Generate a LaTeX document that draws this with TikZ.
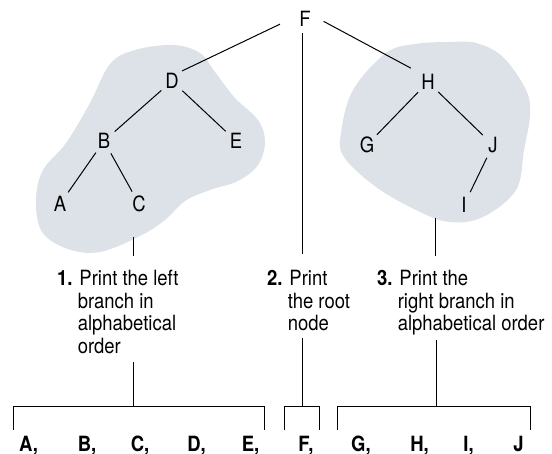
\documentclass[tikz,border=0pt]{standalone}
\usepackage{fontspec}
\setmainfont{TeX Gyre Heros}[FakeStretch=0.88]
\usepackage{xcolor}
\usetikzlibrary{positioning,calc}
\definecolor{cloudgray}{RGB}{220,226,231}

\begin{document}
\begin{tikzpicture}[
  x=1pt, y=-1pt,
  font=\fontsize{21}{22.7}\selectfont,
  key/.style={circle, inner sep=0pt, minimum size=28pt},
  edge/.style={line width=1pt},
  blob/.style={fill=cloudgray, draw=none},
  note/.style={align=left, inner sep=0pt, anchor=north west},
  item/.style={font=\fontsize{21}{22.7}\selectfont\bfseries, inner sep=0pt, anchor=base},
]
\useasboundingbox (0,0) rectangle (552,454);
% shaded branches
\fill[blob] plot[smooth cycle, tension=0.6] coordinates {(173,45) (200,53) (215,72) (235,98) (258,120) (265,142) (258,165) (238,181) (210,190) (185,201) (165,220) (140,236) (100,252) (68,249) (42,232) (36,200) (43,170) (66,143) (90,103) (110,64) (135,50)};
\fill[blob] plot[smooth cycle, tension=0.6] coordinates {(449,42) (476,43) (503,57) (526,90) (530,115) (524,150) (516,190) (483,217) (449,222) (416,210) (376,187) (344,157) (341,133) (353,90) (386,53) (415,44)};
% tree
\node[key] (F) at (305,19) {F};
\node[key] (D) at (172,81) {D};
\node[key] (B) at (104,141) {B};
\node[key] (E) at (236,141) {E};
\node[key] (A) at (60,204) {A};
\node[key] (C) at (139,204) {C};
\node[key] (H) at (428,82) {H};
\node[key] (G) at (367,145) {G};
\node[key] (J) at (493,145) {J};
\node[key] (I) at (464,205) {I};
\draw[edge, shorten <=12pt] (F.west) -- (D.45);
\draw[edge, shorten <=5pt, shorten >=8pt] (F.east) -- (H.north west);
\draw[edge] (D) -- (B);
\draw[edge] (D) -- (E);
\draw[edge] (B) -- (A);
\draw[edge] (B) -- (C);
\draw[edge] (H) -- (G);
\draw[edge] (H) -- (J);
\draw[edge] (J) -- (I);
% steps
\node[note] (step1) at (57,270) {\textbf{1.} Print the left\\ \hphantom{\textbf{1.}~}branch in\\ \hphantom{\textbf{1.}~}alphabetical\\ \hphantom{\textbf{1.}~}order};
\node[note] (step2) at (267,270) {\textbf{2.} Print\\ \hphantom{\textbf{2.}~}the root\\ \hphantom{\textbf{2.}~}node};
\node[note] (step3) at (377,270) {\textbf{3.} Print the\\ \hphantom{\textbf{3.}~}right branch in\\ \hphantom{\textbf{3.}~}alphabetical order};
% printed order
\node[item] (oA) at (28.5,451) {A,};
\node[item] (oB) at (87,451) {B,};
\node[item] (oC) at (140,451) {C,};
\node[item] (oD) at (196.5,451) {D,};
\node[item] (oE) at (250.5,451) {E,};
\node[item] (oF) at (306,451) {F,};
\node[item] (oG) at (361,451) {G,};
\node[item] (oH) at (419.5,451) {H,};
\node[item] (oI) at (468.5,451) {I,};
\node[item] (oJ) at (518.5,451) {J};
% connectors
\coordinate (cl) at (133,237);
\coordinate (cr) at (435,218);
\coordinate (b1) at (133,407);
\coordinate (b2) at (302,407);
\coordinate (b3) at (436,407);
\draw[edge] (cl) -- (cl |- 0,256);
\draw[edge] (F.south -| b2) -- (b2 |- 0,254);
\draw[edge] (cr) -- (cr |- 0,256);
\draw[edge] (b1 |- 0,362) -- (b1);
\draw[edge] (b2 |- 0,338) -- (b2);
\draw[edge] (b3 |- 0,340) -- (b3);
\draw[edge] (13,430) -- (13,407) -- (264,407) -- (264,430);
\draw[edge] (284,430) -- (284,407) -- (319,407) -- (319,430);
\draw[edge] (337,430) -- (337,407) -- (530,407) -- (530,430);
\end{tikzpicture}
\end{document}
